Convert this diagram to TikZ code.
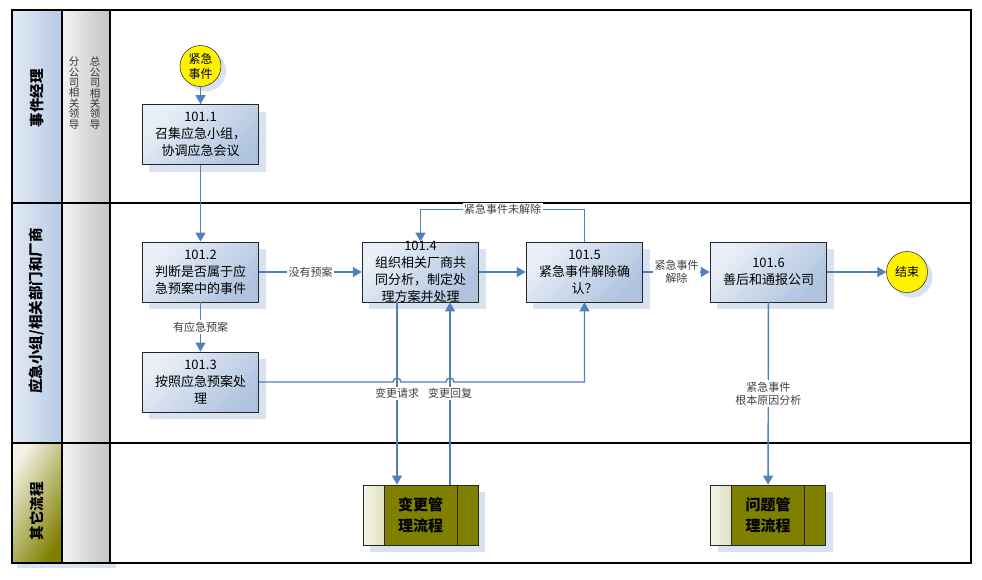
\documentclass[tikz,border=0pt]{standalone}
\usepackage{fontspec}
\setmainfont{Noto Sans CJK SC}
\usetikzlibrary{arrows.meta,shadows}

\definecolor{flowblue}{HTML}{4F81BD}
\definecolor{boxblue}{HTML}{AFC3DF}
\definecolor{boxlight}{HTML}{EAF0F8}
\definecolor{shadowblue}{HTML}{D9E2F1}
\definecolor{laneblue}{HTML}{B6CAE4}
\definecolor{lanelight}{HTML}{E2EAF5}
\definecolor{lanegray}{HTML}{C4C4C4}
\definecolor{procolive}{HTML}{808000}

\begin{document}
\begin{tikzpicture}[x=1pt, y=-1pt]
    % Define styles
    \tikzset{
        stepbox/.style={draw=black!85, thick, top color=boxlight, bottom color=boxblue, shading angle=45, minimum width=115pt, minimum height=60pt, text width=110pt, align=center, font=\fontsize{13}{17}\selectfont, general shadow={fill=shadowblue, shadow xshift=7pt, shadow yshift=-7pt}},
        eventcircle/.style={circle, draw=black, fill=yellow, minimum size=41pt, inner sep=0pt, align=center, font=\fontsize{12}{15}\selectfont, general shadow={fill=shadowblue, shadow xshift=5pt, shadow yshift=-5pt}},
        subprocbox/.style={draw=black!85, thick, fill=procolive, minimum width=115pt, minimum height=60pt, align=center, font=\bfseries\fontsize{15}{21}\selectfont, general shadow={fill=shadowblue, shadow xshift=7pt, shadow yshift=-7pt},
            path picture={
                \shade[left color=procolive!8, right color=procolive] (path picture bounding box.south west) rectangle ([xshift=21pt]path picture bounding box.north west);
                \draw[black!85, thick] ([xshift=21pt]path picture bounding box.south west) -- ([xshift=21pt]path picture bounding box.north west);
                \draw[black!85, thick] ([xshift=-21pt]path picture bounding box.south east) -- ([xshift=-21pt]path picture bounding box.north east);
            }},
        thickarrow/.style={draw=flowblue, line width=1.4pt, -{Triangle[length=9pt, width=10pt]}},
        flowlabel/.style={fill=white, inner sep=1.5pt, text=black!75, font=\fontsize{11}{13}\selectfont, align=center},
        lanetitle/.style={rotate=90, font=\bfseries\fontsize{14.5}{16}\selectfont},
        roletext/.style={text width=12pt, align=center, inner sep=0pt, text=black!80, font=\fontsize{10.5}{10.4}\selectfont}
    }
    \useasboundingbox (0,0) rectangle (982,579);

    % Lane headers
    \fill[shadowblue] (17,15) rectangle (116,568);
    \shade[left color=lanelight, right color=laneblue] (12,10) rectangle (62,443);
    \shade[top color=procolive!10, bottom color=procolive, shading angle=60] (12,443) rectangle (62,563);
    \shade[left color=white!95!black, right color=lanegray] (62,10) rectangle (110,563);
    \fill[white] (110,10) rectangle (971,563);

    % Lane grid
    \draw[line width=2.2pt] (12,10) rectangle (971,563);
    \draw[line width=2.2pt] (12,203) -- (971,203);
    \draw[line width=2.2pt] (12,443) -- (971,443);
    \draw[line width=2.2pt] (62,10) -- (62,563);
    \draw[line width=2.2pt] (110,10) -- (110,563);

    % Lane labels
    \node[lanetitle] (lane1) at (37,98) {事件经理};
    \node[lanetitle] (lane2) at (37,311) {应急小组/相关部门和厂商};
    \node[lanetitle] (lane3) at (37,511) {其它流程};
    \node[roletext] (role1) at (95,93) {总\\公\\司\\相\\关\\领\\导};
    \node[roletext] (role2) at (74,93) {分\\公\\司\\相\\关\\领\\导};

    % Events
    \node[eventcircle] (start) at (200.5,66) {紧急\\事件};
    \node[eventcircle] (finish) at (907,272) {结束};

    % Steps
    \node[stepbox] (p1) at (200.5,134.5) {101.1\\召集应急小组，\\协调应急会议};
    \node[stepbox] (p2) at (200.5,272) {101.2\\判断是否属于应\\急预案中的事件};
    \node[stepbox] (p3) at (200.5,382) {101.3\\按照应急预案处\\理};
    \node[stepbox, inner ysep=-3pt] (p4) at (420.5,272) {101.4\\组织相关厂商共\\同分析，制定处\\理方案并处理};
    \node[stepbox] (p5) at (584.5,272) {101.5\\紧急事件解除确\\认？};
    \node[stepbox] (p6) at (768.5,272) {101.6\\善后和通报公司};

    % Other processes
    \node[subprocbox] (chg) at (420.5,515) {变更管\\理流程};
    \node[subprocbox] (prob) at (768,515) {问题管\\理流程};

    % Connection points on 101.4
    \coordinate (reqline) at ([xshift=-23.5pt]p4.south);
    \coordinate (repline) at ([xshift=29.5pt]p4.south);

    % Arrows
    \draw[thickarrow] (start) -- (p1);
    \draw[thickarrow] (p1) -- (p2);
    \draw[thickarrow] (p2) -- node[flowlabel] {没有预案} (p4);
    \draw[thickarrow] (p2) -- node[flowlabel] {有应急预案} (p3);
    \draw[thickarrow] (p4) -- (p5);
    \draw[thickarrow] (p5.north) -- ++(0,-32) -| node[flowlabel, pos=0.25] {紧急事件未解除} (p4.north);
    \draw[thickarrow] (p5) -- node[flowlabel] {紧急事件\\解除} (p6);
    \draw[thickarrow] (p6) -- (finish);
    \draw[thickarrow] (p3.east) -- ([xshift=-4pt]p3.east -| reqline) arc[start angle=180, end angle=0, radius=4pt]
        -- ([xshift=-4pt]p3.east -| repline) arc[start angle=180, end angle=0, radius=4pt] -| (p5.south);
    \draw[thickarrow] (reqline) -- node[flowlabel] {变更请求} (reqline |- chg.north);
    \draw[thickarrow] (repline |- chg.north) -- node[flowlabel] {变更回复} (repline);
    \draw[thickarrow] (p6) -- node[flowlabel] {紧急事件\\根本原因分析} (prob);

\end{tikzpicture}
\end{document}
